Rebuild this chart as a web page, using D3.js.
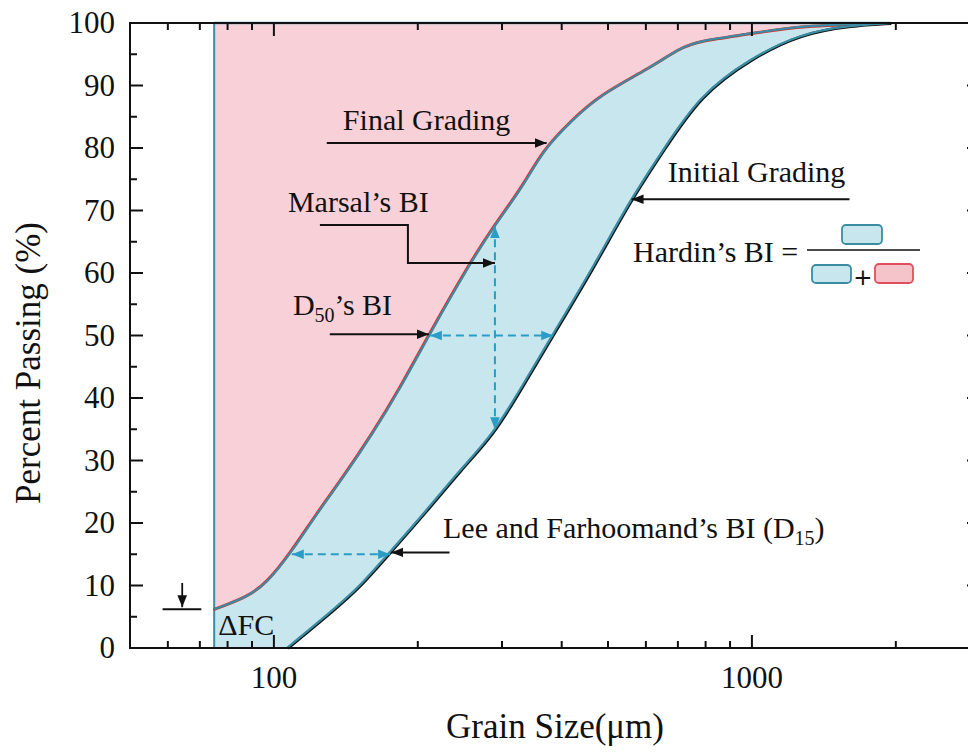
<!DOCTYPE html>
<html>
<head>
<meta charset="utf-8">
<script src="https://cdn.jsdelivr.net/npm/d3@7"></script>
<style>
  body { margin: 0; background: #fff; }
  svg text { font-family: "Liberation Serif", "Times New Roman", serif; fill: #111; }
</style>
</head>
<body>
<div id="chart"></div>
<script>
// grading curves (grain size in um, percent passing)
var finalSize   = [75, 88, 96.5, 109, 123, 140, 161, 184, 212, 257, 290, 332, 366, 420, 481, 612, 707, 778, 1000, 1260, 1950];
var finalPass   = [6.2, 8.2, 10.3, 15.4, 21.5, 27.4, 34.3, 41.6, 50.3, 61.5, 67.7, 73.8, 79.7, 84.4, 88.5, 92.8, 96.0, 97.2, 98.3, 99.6, 100];
var initialSize = [106.5, 133, 151, 175, 209, 245, 288, 327, 384, 466, 556, 652, 778, 990, 1260, 1600, 1950];
var initialPass = [0, 6.1, 9.8, 15.4, 22.1, 28.5, 34.3, 41.3, 50.3, 61, 71.7, 79.7, 88.5, 94.3, 98.3, 99.6, 100];

var xTickLabels = [100, 1000];
var yTickLabels = [0, 10, 20, 30, 40, 50, 60, 70, 80, 90, 100];

// breakage index markers
var d50Final = 212, d50Initial = 384;
var d15Final = 109, d15Initial = 175;
var marsalSize = 290, marsalTop = 67.5, marsalBottom = 35;
var fcLimit = 75;

(function() {
    var W = 968, H = 756;
    var svg = d3.select("#chart").append("svg")
        .attr("width", W)
        .attr("height", H);

    var box = {xmin: 130, xmax: 980, ymin: 23, ymax: 648};

    var x = d3.scaleLog().domain([50, 3000]).range([box.xmin, box.xmax]);
    var y = d3.scaleLinear().domain([0, 100]).range([box.ymax, box.ymin]);

    var teal = "#3a8ca3", pink = "#f7d1d7", blue = "#c8e6ee", dash = "#2a9dc6";

    var finalPts = d3.zip(finalSize, finalPass);
    var initialPts = d3.zip(initialSize, initialPass);

    var line = d3.line()
        .x(function(d) { return x(d[0]); })
        .y(function(d) { return y(d[1]); })
        .curve(d3.curveBasis);

    // pink area: above final grading
    var area = d3.area()
        .x(function(d) { return x(d[0]); })
        .y0(y(100))
        .y1(function(d) { return y(d[1]); })
        .curve(d3.curveBasis);

    svg.append("path")
        .attr("d", area(finalPts))
        .attr("fill", pink)
        .attr("stroke", "none");

    // blue area: between final and initial grading, plus fines below final start
    var bluePath = "M" + x(fcLimit) + "," + y(0) +
        line(finalPts).replace(/^M/, "L") +
        line(initialPts.slice().reverse()).replace(/^M/, "L") + "Z";
    svg.append("path")
        .attr("d", bluePath)
        .attr("fill", blue)
        .attr("stroke", "none");

    // left boundary and top edge
    svg.append("line")
        .attr("x1", x(fcLimit)).attr("x2", x(fcLimit))
        .attr("y1", y(0)).attr("y2", y(100))
        .attr("stroke", teal).attr("stroke-width", 2);
    svg.append("line")
        .attr("x1", x(fcLimit)).attr("x2", x(finalSize[finalSize.length - 1]))
        .attr("y1", y(100)).attr("y2", y(100))
        .attr("stroke", teal).attr("stroke-width", 2.5);

    // curves: coloured line under a teal outline
    svg.append("path").attr("d", line(finalPts))
        .attr("fill", "none").attr("stroke", "#e02a2a").attr("stroke-width", 3)
        .attr("transform", "translate(-0.8,0.4)");
    svg.append("path").attr("d", line(initialPts))
        .attr("fill", "none").attr("stroke", "#111").attr("stroke-width", 3)
        .attr("transform", "translate(0.8,0.4)");
    svg.append("path").attr("d", line(finalPts))
        .attr("fill", "none").attr("stroke", teal).attr("stroke-width", 2.2);
    svg.append("path").attr("d", line(initialPts))
        .attr("fill", "none").attr("stroke", teal).attr("stroke-width", 2.2);

    // markers
    var defs = svg.append("defs");
    function marker(id, color, size) {
        defs.append("marker")
            .attr("id", id)
            .attr("viewBox", "0 0 10 10")
            .attr("refX", 10).attr("refY", 5)
            .attr("markerUnits", "userSpaceOnUse")
            .attr("markerWidth", size).attr("markerHeight", size)
            .attr("orient", "auto-start-reverse")
            .append("path")
            .attr("d", "M0,1 L10,5 L0,9 Z")
            .attr("fill", color);
    }
    marker("arrBlack", "#111", 12);
    marker("arrDash", dash, 12);

    function dashed(x1, y1, x2, y2) {
        svg.append("line")
            .attr("x1", x(x1)).attr("y1", y(y1))
            .attr("x2", x(x2)).attr("y2", y(y2))
            .attr("stroke", dash).attr("stroke-width", 2)
            .attr("stroke-dasharray", "8,5")
            .attr("marker-start", "url(#arrDash)")
            .attr("marker-end", "url(#arrDash)");
    }
    dashed(d50Final, 50, d50Initial, 50);
    dashed(marsalSize, marsalTop, marsalSize, marsalBottom);
    dashed(d15Final, 15, d15Initial, 15);

    function arrow(pts) {
        svg.append("path")
            .attr("d", d3.line()(pts.map(function(p) { return [x(p[0]), y(p[1])]; })))
            .attr("fill", "none")
            .attr("stroke", "#111").attr("stroke-width", 2)
            .attr("marker-end", "url(#arrBlack)");
    }
    arrow([[129, 80.8], [372, 80.8]]);
    arrow([[124.8, 67.7], [190.7, 67.7], [190.7, 61.6], [marsalSize, 61.6]]);
    arrow([[130.9, 50.2], [d50Final - 1, 50.2]]);
    arrow([[233, 15.3], [d15Initial + 1, 15.3]]);
    arrow([[1600, 71.8], [560, 71.8]]);

    // ΔFC marker
    svg.append("line")
        .attr("x1", x(58.5)).attr("x2", x(70.5))
        .attr("y1", y(finalPass[0])).attr("y2", y(finalPass[0]))
        .attr("stroke", "#111").attr("stroke-width", 2);
    svg.append("line")
        .attr("x1", x(64.3)).attr("x2", x(64.3))
        .attr("y1", y(10.4)).attr("y2", y(finalPass[0]) - 2)
        .attr("stroke", "#111").attr("stroke-width", 1.8)
        .attr("marker-end", "url(#arrBlack)");

    // annotation texts
    function label(px, py, txt, size) {
        return svg.append("text")
            .attr("x", x(px)).attr("y", y(py))
            .style("font-size", (size || 30) + "px")
            .text(txt);
    }
    label(139.4, 82.9, "Final Grading");
    label(107, 69.8, "Marsal\u2019s BI");
    var d50t = label(109.6, 53.3, "D");
    d50t.append("tspan").attr("dy", 7).style("font-size", "20px").text("50");
    d50t.append("tspan").attr("dy", -7).text("\u2019s BI");
    var leet = label(225.8, 17.6, "Lee and Farhoomand\u2019s BI (D");
    leet.append("tspan").attr("dy", 7).style("font-size", "20px").text("15");
    leet.append("tspan").attr("dy", -7).text(")");
    label(667, 74.6, "Initial Grading");
    label(76.5, 2.1, "\u0394FC");

    // Hardin's BI formula
    var hx = 633, hy = 262;
    svg.append("text").attr("x", hx).attr("y", hy).style("font-size", "30px").text("Hardin\u2019s BI =");
    var g = svg.append("g");
    g.append("line").attr("x1", 807).attr("x2", 920).attr("y1", 250).attr("y2", 250)
        .attr("stroke", "#111").attr("stroke-width", 1.3);
    g.append("rect").attr("x", 842).attr("y", 225).attr("width", 40).attr("height", 19).attr("rx", 4)
        .attr("fill", blue).attr("stroke", teal).attr("stroke-width", 1.8);
    g.append("rect").attr("x", 812).attr("y", 265).attr("width", 39).attr("height", 18).attr("rx", 4)
        .attr("fill", blue).attr("stroke", teal).attr("stroke-width", 1.8);
    g.append("text").attr("x", 863).attr("y", 284.5).attr("text-anchor", "middle")
        .style("font-size", "23px").style("font-family", "'DejaVu Sans', sans-serif").text("+");
    g.append("rect").attr("x", 875).attr("y", 264).attr("width", 38).attr("height", 19).attr("rx", 4)
        .attr("fill", "#f5c3ca").attr("stroke", "#e0505c").attr("stroke-width", 1.8);

    // axes: ticks inward on all four sides
    var majorX = [100, 1000];
    var minorX = [60, 70, 80, 90, 200, 300, 400, 500, 600, 700, 800, 900, 2000];
    var majorY = d3.range(0, 101, 10);
    var minorY = d3.range(5, 100, 10);
    var axes = svg.append("g").attr("stroke", "#111").attr("stroke-width", 2);

    axes.append("rect")
        .attr("x", box.xmin).attr("y", box.ymin)
        .attr("width", box.xmax - box.xmin).attr("height", box.ymax - box.ymin)
        .attr("fill", "none");

    function xt(vals, len) {
        vals.forEach(function(v) {
            axes.append("line").attr("x1", x(v)).attr("x2", x(v))
                .attr("y1", box.ymax).attr("y2", box.ymax - len);
            axes.append("line").attr("x1", x(v)).attr("x2", x(v))
                .attr("y1", box.ymin).attr("y2", box.ymin + len);
        });
    }
    function yt(vals, len) {
        vals.forEach(function(v) {
            axes.append("line").attr("y1", y(v)).attr("y2", y(v))
                .attr("x1", box.xmin).attr("x2", box.xmin + len);
            axes.append("line").attr("y1", y(v)).attr("y2", y(v))
                .attr("x1", box.xmax).attr("x2", box.xmax - len);
        });
    }
    xt(majorX, 13); xt(minorX, 7);
    yt(majorY, 13); yt(minorY, 7);

    svg.selectAll(".xlab").data(xTickLabels).enter().append("text")
        .attr("class", "xlab")
        .attr("x", function(d) { return x(d); })
        .attr("y", box.ymax + 40)
        .attr("text-anchor", "middle")
        .style("font-size", "31px")
        .text(function(d) { return d; });

    svg.selectAll(".ylab").data(yTickLabels).enter().append("text")
        .attr("class", "ylab")
        .attr("x", 115)
        .attr("y", function(d) { return y(d) + 10; })
        .attr("text-anchor", "end")
        .style("font-size", "31px")
        .text(function(d) { return d; });

    svg.append("text")
        .attr("x", 555).attr("y", 738)
        .attr("text-anchor", "middle")
        .style("font-size", "35px")
        .text("Grain Size(\u03bcm)");

    svg.append("text")
        .attr("transform", "translate(40,363) rotate(-90)")
        .attr("text-anchor", "middle")
        .style("font-size", "35px")
        .text("Percent Passing (%)");
})();
</script>
</body>
</html>
